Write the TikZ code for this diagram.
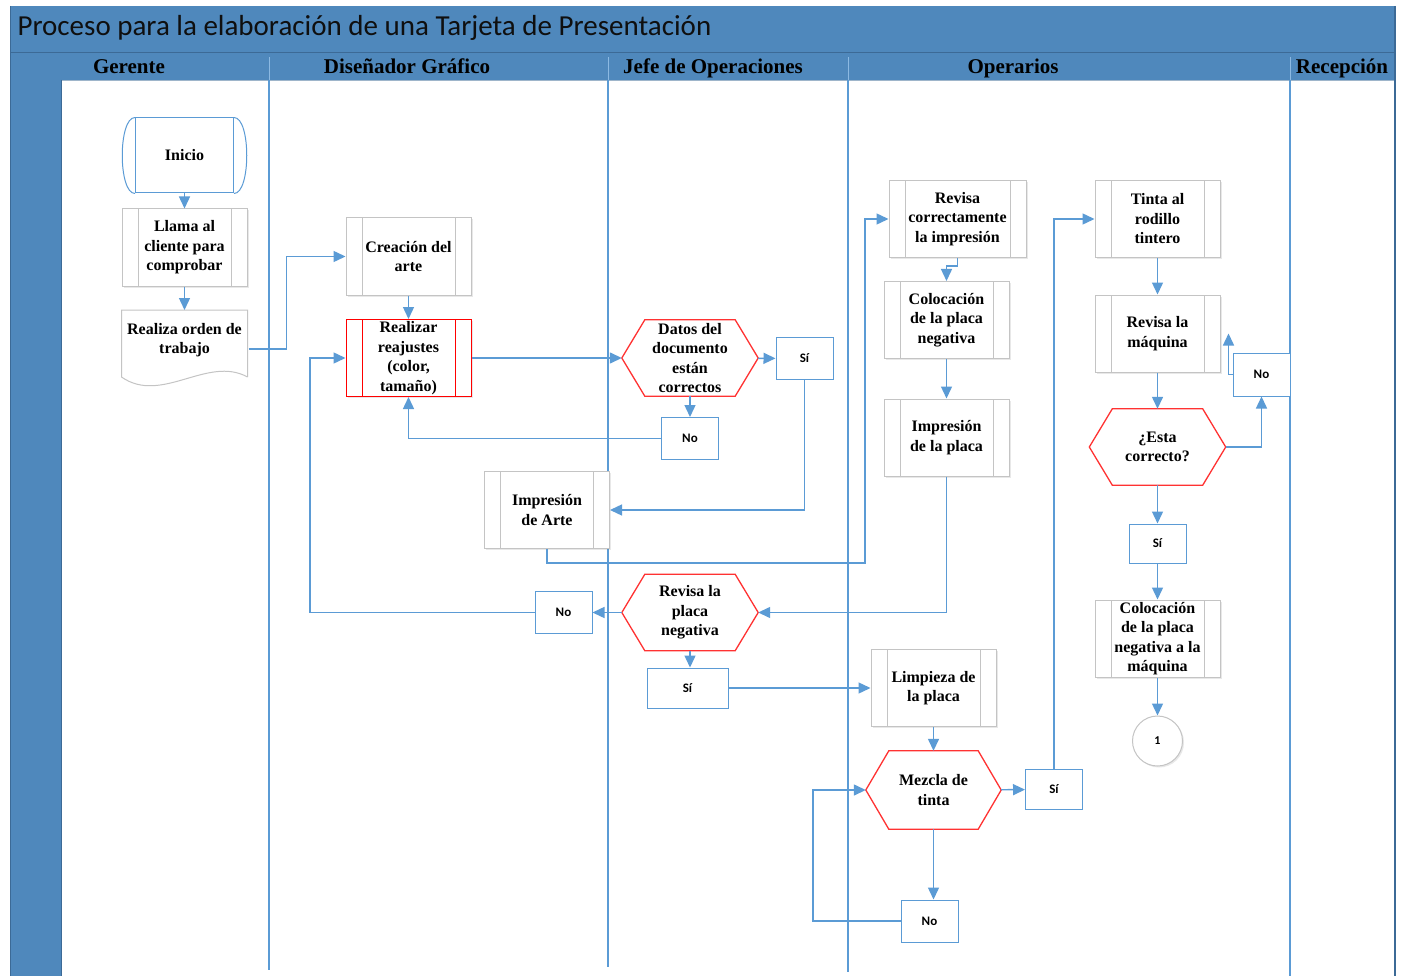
\documentclass[tikz,border=0pt]{standalone}
\usepackage{fontspec}
\setmainfont{Liberation Serif}
\newfontfamily\carlito{Carlito}
\usetikzlibrary{arrows.meta,shadows}
\definecolor{cabecera}{RGB}{79,136,188}
\definecolor{bordecab}{RGB}{60,106,150}
\definecolor{azul}{RGB}{91,155,213}
\definecolor{rojo}{RGB}{255,50,50}
\definecolor{gris}{RGB}{196,196,196}
\newcommand{\hexborde}[1]{\draw[rojo, line width=1.3pt] (#1.west) -- ([xshift=23pt]#1.north west) -- ([xshift=-23pt]#1.north east) -- (#1.east) -- ([xshift=-23pt]#1.south east) -- ([xshift=23pt]#1.south west) -- cycle;}

\begin{document}
\begin{tikzpicture}[x=1pt,y=-1pt,
proceso/.style={rectangle, draw=#1, line width=1pt, fill=white, minimum width=125pt, minimum height=77pt, inner sep=1pt, align=center, font=\fontsize{16}{19.5}\selectfont\bfseries,
  drop shadow={shadow xshift=1.5pt, shadow yshift=-1.5pt, opacity=0.18},
  path picture={\draw[#1, line width=1pt] ([xshift=16pt]path picture bounding box.north west) -- ([xshift=16pt]path picture bounding box.south west) ([xshift=-16pt]path picture bounding box.north east) -- ([xshift=-16pt]path picture bounding box.south east);}},
proceso/.default=gris,
decision/.style={rectangle, minimum width=136pt, minimum height=76pt, inner sep=0pt, align=center, font=\fontsize{16}{19.5}\selectfont\bfseries},
resp/.style={rectangle, draw=azul, line width=1pt, fill=white, minimum width=57pt, minimum height=42pt, font=\carlito\fontsize{13}{15}\selectfont\bfseries},
carril/.style={draw=azul, line width=1.2pt},
flecha/.style={draw=azul, line width=1.4pt, -{Triangle[length=12pt,width=11pt]}},
titulocarril/.style={anchor=base, font=\fontsize{21}{24}\selectfont\bfseries}
]
    \useasboundingbox (0,0) rectangle (1402,976);
    \fill[cabecera] (10,6) rectangle (1395,976);
    \fill[white] (61,80) rectangle (1395,976);
    \draw[bordecab, line width=1pt] (10,53) -- (1395,53);
    \draw[bordecab!50, line width=0.8pt] (61,80.5) -- (1395,80.5);
    \draw[bordecab, line width=1pt] (61,80) -- (61,976);
    \draw[bordecab, line width=0.8pt] (10,6) -- (10,976);
    \draw[bordecab, line width=1.5pt] (1395,6) -- (1395,976);

    \node[anchor=west, font=\carlito\fontsize{29}{33}\selectfont, text={rgb,255:red,15;green,15;blue,15}] (titulo) at (14,28) {Proceso para la elaboración de una Tarjeta de Presentación};

    \node[titulocarril] (hgerente) at (129,73.5) {Gerente};
    \node[titulocarril] (hdisenador) at (407,73.5) {Diseñador Gráfico};
    \node[titulocarril] (hjefe) at (713,73.5) {Jefe de Operaciones};
    \node[titulocarril] (hoperarios) at (1013,73.5) {Operarios};
    \node[titulocarril] (hrecepcion) at (1342,73.5) {Recepción};

    \foreach \x/\f in {269/970, 608/967, 848/972, 1290/976} {
      \draw[azul!70!white, line width=0.6pt] (\x,57) -- (\x,80);
      \draw[carril] (\x,80) -- (\x,\f);
    }

    % Gerente
    \node[rectangle, draw=azul, line width=1pt, minimum width=98pt, minimum height=75pt, font=\fontsize{16}{19.5}\selectfont\bfseries] (inicio) at (184.5,155.5) {Inicio};
    \draw[azul, line width=1pt] (inicio.north west) .. controls +(-17,0) and +(-17,0) .. (inicio.south west)
      (inicio.north east) .. controls +(17,0) and +(17,0) .. (inicio.south east);
    \node[proceso] (llama) at (184.5,247.5) {Llama al\\cliente para\\comprobar};
    \draw[gris, line width=1pt] (247.5,377) -- (247.5,310) -- (121.5,310) -- (121.5,377)
      .. controls +(40,28) and +(-40,-22) .. (247.5,377);
    \node[decision] (orden) at (184.5,340) {Realiza orden de\\trabajo};

    % Diseñador
    \node[proceso] (creacion) at (408.5,256.5) {Creación del\\arte};
    \node[proceso=red] (reajustes) at (408.5,358) {Realizar\\reajustes\\(color,\\tamaño)};
    \node[proceso] (imparte) at (547,510) {Impresión\\de Arte};

    % Jefe de Operaciones
    \node[decision] (datos) at (690,358) {Datos del\\documento\\están\\correctos};
    \hexborde{datos}
    \node[resp] (si1) at (804.5,358.5) {Sí};
    \node[resp] (no1) at (690,438.5) {No};
    \node[decision] (revplaca) at (690,612.5) {Revisa la\\placa\\negativa};
    \hexborde{revplaca}
    \node[resp] (no2) at (563.5,612.5) {No};
    \node[resp, minimum width=81pt, minimum height=40pt] (si2) at (687.5,688) {Sí};

    % Operarios
    \node[proceso, minimum width=137pt] (revcorr) at (957.5,219) {Revisa\\correctamente\\la impresión};
    \node[proceso] (coloc) at (946.5,320) {Colocación\\de la placa\\negativa};
    \node[proceso] (impplaca) at (946.5,437.5) {Impresión\\de la placa};
    \node[proceso] (limpieza) at (933.5,688) {Limpieza de\\la placa};
    \node[decision, minimum width=135pt, minimum height=78pt] (mezcla) at (933.5,790) {Mezcla de\\tinta};
    \hexborde{mezcla}
    \node[resp, minimum height=40pt] (si3) at (1054,789.5) {Sí};
    \node[resp] (no3) at (929.5,921) {No};
    \node[proceso] (tinta) at (1157.5,219) {Tinta al\\rodillo\\tintero};
    \node[proceso] (revmaq) at (1157.5,333.5) {Revisa la\\máquina};
    \node[decision] (correcto) at (1157.5,447) {¿Esta\\correcto?};
    \hexborde{correcto}
    \node[resp, minimum height=43pt] (no4) at (1261.5,374.5) {No};
    \node[resp, minimum height=39pt] (si4) at (1157.5,543.5) {Sí};
    \node[proceso] (coloc2) at (1157.5,638.5) {Colocación\\de la placa\\negativa a la\\máquina};
    \node[circle, draw=gris, line width=1pt, minimum size=50pt, drop shadow={shadow xshift=1.5pt, shadow yshift=-1.5pt, opacity=0.18}, fill=white, font=\carlito\fontsize{12}{14}\selectfont\bfseries] (uno) at (1157.5,741) {1};

    \coordinate (c1) at (865,563);
    \coordinate (c2) at (310,612.5);
    \coordinate (c3) at (813,921);

    \draw[flecha] (inicio) -- (llama);
    \draw[flecha] (llama.south) -- (184.5,310);
    \draw[flecha] ([xshift=-4pt, yshift=-9pt]orden.east) -- ++(38,0) |- (creacion.west);
    \draw[flecha] (creacion) -- (reajustes);
    \draw[flecha] (reajustes) -- (datos);
    \draw[flecha] (datos) -- (si1);
    \draw[flecha] (datos) -- (no1);
    \draw[flecha] (no1.west) -| (reajustes.south);
    \draw[flecha] (si1.south) |- (imparte.east);
    \draw[flecha] (imparte.south) |- (c1) |- (revcorr.west);
    \draw[flecha] (revcorr.south) -- ++(0,8) -| (coloc.north);
    \draw[flecha] (coloc) -- (impplaca);
    \draw[flecha] (impplaca.south) |- (revplaca.east);
    \draw[flecha] (revplaca) -- (no2);
    \draw[flecha] (no2.west) -- (c2) |- (reajustes.west);
    \draw[flecha] (revplaca.south) -- (revplaca.south |- si2.north);
    \draw[flecha] (si2) -- (limpieza);
    \draw[flecha] (limpieza) -- (mezcla);
    \draw[flecha] (mezcla) -- (si3);
    \draw[flecha] (si3.north) |- (tinta.west);
    \draw[flecha] (mezcla.south) -- (mezcla.south |- no3.north);
    \draw[flecha] (no3.west) -- (c3) |- (mezcla.west);
    \draw[flecha] (tinta) -- (revmaq);
    \draw[flecha] (revmaq) -- (correcto);
    \draw[flecha] (correcto.east) -| (no4.south);
    \draw[flecha] (no4.west) -| ([xshift=8pt]revmaq.east);
    \draw[flecha] (correcto) -- (si4);
    \draw[flecha] (si4) -- (coloc2);
    \draw[flecha] (coloc2) -- (uno);
\end{tikzpicture}
\end{document}
